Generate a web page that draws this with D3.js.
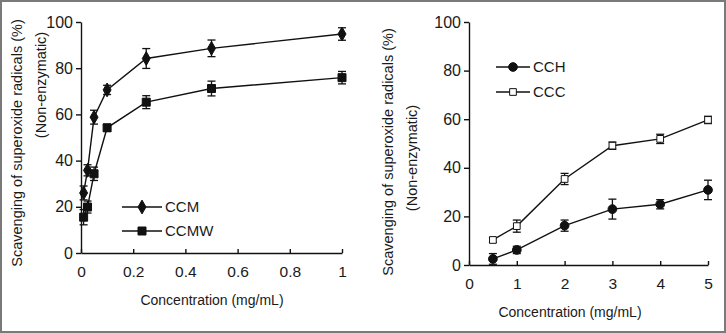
<!DOCTYPE html>
<html>
<head>
<meta charset="utf-8">
<script src="https://cdn.jsdelivr.net/npm/d3@7"></script>
<style>
  body { margin: 0; background: #fff; }
  svg { display: block; font-family: Arial, "Liberation Sans", sans-serif; }
</style>
</head>
<body>
<svg id="chart" width="726" height="333"></svg>
<script>
// left panel
const concLeft = [0.01, 0.025, 0.05, 0.1, 0.25, 0.5, 1]
const ccm = [26, 35.8, 58.8, 70.6, 84.2, 88.6, 94.8]
const ccmErr = [3, 2.4, 3, 2, 4.3, 3.6, 2.7]
const ccmw = [15.5, 19.9, 34.3, 54.2, 65.3, 71.2, 75.9]
const ccmwErr = [3.3, 2.6, 2.9, 1.5, 2.8, 3.2, 2.7]
const ticksLeftX = [0, 0.2, 0.4, 0.6, 0.8, 1]

// right panel
const concRight = [0.5, 1, 2, 3, 4, 5]
const cch = [2.5, 6.2, 16.2, 23, 25, 30.9]
const cchErr = [2.2, 1.5, 2.3, 4.1, 1.9, 4]
const ccc = [10.3, 16, 35.4, 49.1, 51.9, 59.7]
const cccErr = [1, 2.5, 2.3, 1.5, 1.9, 1.5]
const ticksRightX = [0, 1, 2, 3, 4, 5]

const ticksY = [0, 20, 40, 60, 80, 100]

const svg = d3.select('#chart')

svg.append('rect')
  .attr('x', 1).attr('y', 1)
  .attr('width', 724).attr('height', 331)
  .attr('fill', 'none')
  .attr('stroke', '#7a7a7a')
  .attr('stroke-width', 2)

function panel(opts) {
  const g = svg.append('g')
  const x = d3.scaleLinear().domain(opts.xDomain).range(opts.xRange)
  const y = d3.scaleLinear().domain([0, 100]).range(opts.yRange)

  const axisY = d3.axisLeft(y).tickValues(ticksY).tickSize(5).tickSizeOuter(0).tickPadding(3)
  const axisX = d3.axisBottom(x).tickValues(opts.xTicks).tickSize(-4).tickSizeOuter(0).tickPadding(13)
    .tickFormat(d3.format('~g'))

  const gy = g.append('g')
    .attr('transform', `translate(${opts.xRange[0]},0)`)
    .call(axisY)
  gy.selectAll('text').attr('font-size', 16).attr('fill', '#1a1a1a')

  const gx = g.append('g')
    .attr('transform', `translate(0,${opts.yRange[0]})`)
    .call(axisX)
  gx.selectAll('text').attr('font-size', 15.5).attr('fill', '#1a1a1a')

  g.selectAll('.domain, .tick line').attr('stroke', '#111').attr('stroke-width', 1.4)

  // axis titles
  g.append('text')
    .attr('x', opts.xTitle[0]).attr('y', opts.xTitle[1])
    .attr('text-anchor', 'middle')
    .attr('font-size', 14)
    .attr('fill', '#1a1a1a')
    .text('Concentration (mg/mL)')

  opts.yTitles.forEach(t => {
    g.append('text')
      .attr('transform', `translate(${t.x},${t.y}) rotate(-90)`)
      .attr('text-anchor', 'middle')
      .attr('font-size', 14.5)
      .attr('fill', '#1a1a1a')
      .text(t.text)
  })

  opts.series.forEach(s => {
    const pts = opts.xs.map((c, i) => ({c, v: s.values[i], e: s.err[i]}))
    const sg = g.append('g')

    sg.append('path')
      .datum(pts)
      .attr('fill', 'none')
      .attr('stroke', '#111')
      .attr('stroke-width', 1.4)
      .attr('d', d3.line().x(d => x(d.c)).y(d => y(d.v)))

    const eb = sg.selectAll('.err')
      .data(pts)
      .join('g')
      .attr('stroke', '#111')
      .attr('stroke-width', 1.3)
    eb.append('line')
      .attr('x1', d => x(d.c)).attr('x2', d => x(d.c))
      .attr('y1', d => y(d.v + d.e)).attr('y2', d => y(d.v - d.e))
    eb.append('line')
      .attr('x1', d => x(d.c) - 4).attr('x2', d => x(d.c) + 4)
      .attr('y1', d => y(d.v + d.e)).attr('y2', d => y(d.v + d.e))
    eb.append('line')
      .attr('x1', d => x(d.c) - 4).attr('x2', d => x(d.c) + 4)
      .attr('y1', d => y(d.v - d.e)).attr('y2', d => y(d.v - d.e))

    const sym = d3.symbol().type(s.symbol).size(s.size)
    sg.selectAll('.pt')
      .data(pts)
      .join('path')
      .attr('transform', d => `translate(${x(d.c)},${y(d.v)})`)
      .attr('d', sym)
      .attr('fill', s.fill)
      .attr('stroke', '#111')
      .attr('stroke-width', 1)
  })

  // legend
  opts.series.forEach((s, i) => {
    const lx = opts.legend[0]
    const ly = opts.legend[1] + i * opts.legend[2]
    g.append('line')
      .attr('x1', lx).attr('x2', lx + opts.legend[3])
      .attr('y1', ly).attr('y2', ly)
      .attr('stroke', '#111').attr('stroke-width', 1.4)
    g.append('path')
      .attr('transform', `translate(${lx + opts.legend[3] / 2},${ly})`)
      .attr('d', d3.symbol().type(s.symbol).size(s.size))
      .attr('fill', s.fill)
      .attr('stroke', '#111')
      .attr('stroke-width', 1)
    g.append('text')
      .attr('x', lx + opts.legend[3] + 3).attr('y', ly + 5)
      .attr('font-size', 15)
      .attr('fill', '#1a1a1a')
      .text(s.name)
  })
}

panel({
  xDomain: [0, 1], xRange: [81, 342], yRange: [253, 22],
  xTicks: ticksLeftX, xs: concLeft,
  xTitle: [212, 305],
  yTitles: [
    {x: 22, y: 143, text: 'Scavenging of superoxide radicals (%)'},
    {x: 46, y: 85, text: '(Non-enzymatic)'}
  ],
  legend: [122, 207, 24, 40],
  series: [
    {name: 'CCM', values: ccm, err: ccmErr, symbol: d3.symbolDiamond, size: 55, fill: '#111'},
    {name: 'CCMW', values: ccmw, err: ccmwErr, symbol: d3.symbolSquare, size: 64, fill: '#111'}
  ]
})

panel({
  xDomain: [0, 5], xRange: [469, 708], yRange: [265, 22],
  xTicks: ticksRightX, xs: concRight,
  xTitle: [570, 317],
  yTitles: [
    {x: 393, y: 152, text: 'Scavenging of superoxide radicals (%)'},
    {x: 417, y: 158, text: '(Non-enzymatic)'}
  ],
  legend: [496, 67, 25, 34],
  series: [
    {name: 'CCH', values: cch, err: cchErr, symbol: d3.symbolCircle, size: 60, fill: '#111'},
    {name: 'CCC', values: ccc, err: cccErr, symbol: d3.symbolSquare, size: 45, fill: '#fff'}
  ]
})
</script>
</body>
</html>
